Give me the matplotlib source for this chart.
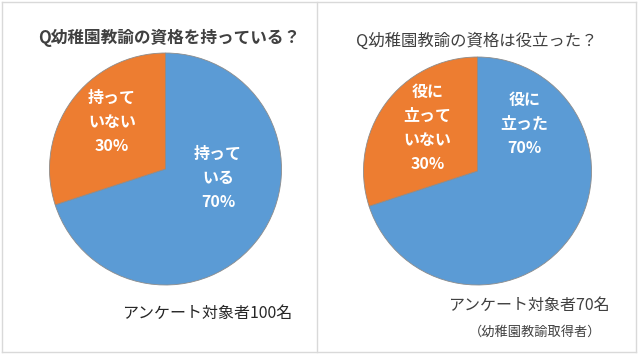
import matplotlib
matplotlib.use('Agg')
import matplotlib.pyplot as plt
from matplotlib.lines import Line2D

plt.rcParams['font.family'] = ['Noto Sans CJK JP', 'DejaVu Sans']

# data
left_title = 'Q幼稚園教諭の資格を持っている？'
left_values = [70, 30]
left_labels = ['持って\nいる\n70%', '持って\nいない\n30%']
left_note = 'アンケート対象者100名'

right_title = 'Q幼稚園教諭の資格は役立った？'
right_values = [70, 30]
right_labels = ['役に\n立った\n70%', '役に\n立って\nいない\n30%']
right_note = 'アンケート対象者70名'
right_sub = '（幼稚園教諭取得者）'

colors = ['#5B9BD5', '#ED7D31']

W, H = 640, 357
fig = plt.figure(figsize=(W / 100, H / 100), dpi=100)


def fx(px):
    return px / W


def fy(py):
    return 1 - py / H


def pie_axes(cx, cy, r):
    ax = fig.add_axes([fx(cx - r), fy(cy + r), 2 * r / W, 2 * r / H])
    ax.set_xlim(-1, 1)
    ax.set_ylim(-1, 1)
    ax.axis('off')
    return ax


def draw(ax, values, labels, label_pos, r):
    ax.pie(values, colors=colors, startangle=90, counterclock=False, radius=1,
           wedgeprops=dict(edgecolor='#8c8c8c', linewidth=0.6))
    ax.set_xlim(-1, 1)
    ax.set_ylim(-1, 1)
    step = 24 / r
    for lab, (x, y) in zip(labels, label_pos):
        lines = lab.split('\n')
        n = len(lines)
        for i, t in enumerate(lines):
            yy = y + ((n - 1) / 2 - i) * step
            ax.text(x, yy, t, ha='center', va='center', color='white',
                    fontsize=11.5, fontweight='bold')


# left pie
r1 = 116
ax1 = pie_axes(165.5, 169, r1)
draw(ax1, left_values, left_labels,
     [(52.5 / r1, -9 / r1), (-53.5 / r1, 47 / r1)], r1)

# right pie
r2 = 114
ax2 = pie_axes(477.5, 171, r2)
draw(ax2, right_values, right_labels,
     [(47 / r2, 47 / r2), (-50 / r2, 43.5 / r2)], r2)

# titles and notes
fig.text(fx(169.5), fy(38), left_title, ha='center', va='center',
         fontsize=12, color='#404040', fontweight='bold')
fig.text(fx(477), fy(41), right_title, ha='center', va='center',
         fontsize=11.8, color='#404040')
fig.text(fx(207), fy(313), left_note, ha='center', va='center',
         fontsize=11.5, color='#262626')
fig.text(fx(529), fy(305), right_note, ha='center', va='center',
         fontsize=11.5, color='#404040')
fig.text(fx(535), fy(332), right_sub, ha='center', va='center',
         fontsize=9.5, color='#404040')

# panel frames
frame = '#d9d9d9'
for xs, ys in [([2, 636], [2, 2]), ([2, 636], [352, 352]),
               ([2, 2], [2, 352]), ([636, 636], [2, 352]),
               ([317, 317], [2, 352])]:
    fig.add_artist(Line2D([fx(x) for x in xs], [fy(y) for y in ys],
                          color=frame, linewidth=1))

fig.savefig('out.png', dpi=100)
